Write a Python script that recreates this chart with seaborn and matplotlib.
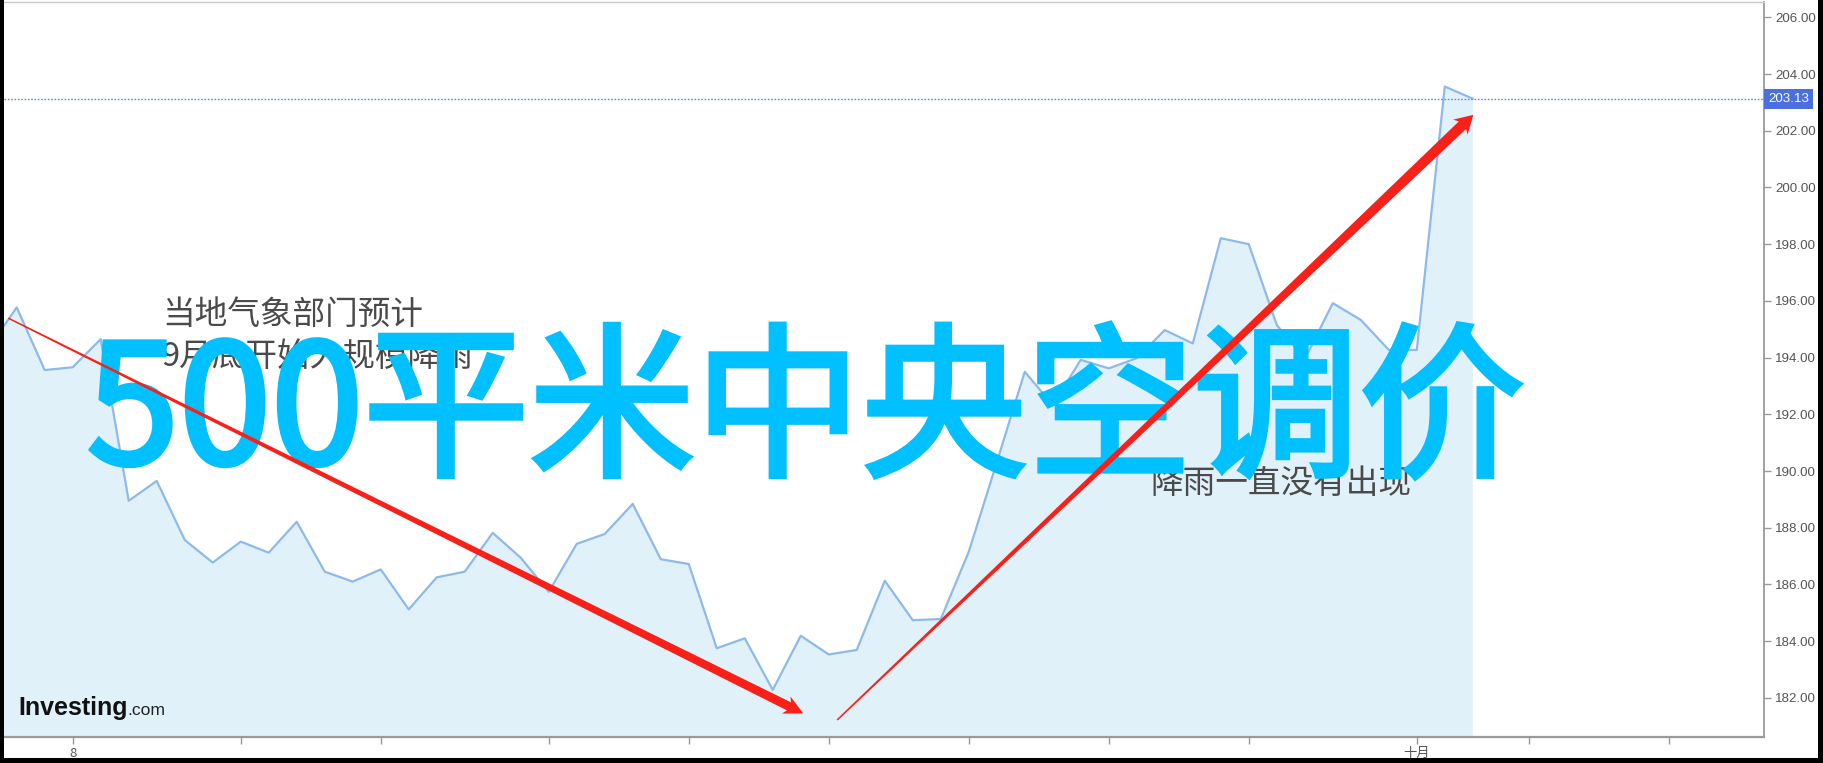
import numpy as np
import pandas as pd
import matplotlib
matplotlib.use("Agg")
import matplotlib.pyplot as plt
import matplotlib.patheffects as pe
import seaborn as sns
from matplotlib.patches import Polygon, Rectangle
from matplotlib.transforms import IdentityTransform

# ---------------- data ----------------
day_index = list(range(-1, 53))
prices = [194.34, 195.77, 193.56, 193.66, 194.65, 188.95, 189.65, 187.57, 186.77, 187.51,
          187.12, 188.21, 186.45, 186.10, 186.53, 185.12, 186.25, 186.45, 187.82, 186.94,
          185.74, 187.43, 187.78, 188.84, 186.89, 186.72, 183.75, 184.10, 182.28, 184.19,
          183.53, 183.69, 186.13, 184.74, 184.78, 187.15, 190.30, 193.50, 192.33, 193.92,
          193.62, 193.98, 194.97, 194.50, 198.21, 198.00, 195.15, 193.94, 195.92, 195.33,
          194.27, 194.27, 203.56, 203.13]
y_ticks = [182, 184, 186, 188, 190, 192, 194, 196, 198, 200, 202, 204, 206]
x_tick_pos = [2, 8, 13, 19, 24, 29, 34, 39, 44, 50, 54, 59]
x_tick_labels = ["8", "", "", "", "", "", "", "", "", "十月", "", ""]
last_price = 203.13
note_top = ["当地气象部门预计", "9月底开始大规模降雨"]
note_bottom = "降雨一直没有出现"
headline = "500平米中央空调价"
arrow_down = ((-0.3, 195.39), (28.09, 181.45))
arrow_up = ((29.3, 181.22), (52.02, 202.56))

# ---------------- figure ----------------
W, H, DPI = 1823, 763, 100
sns.set_theme(style="white")
plt.rcParams['font.family'] = ['Noto Sans CJK SC', 'DejaVu Sans']

fig = plt.figure(figsize=(W / DPI, H / DPI), dpi=DPI)
fig.patch.set_facecolor('white')

ax_l, ax_r, ax_t, ax_b = 4, 1764, 2, 737
ax = fig.add_axes([ax_l / W, 1 - ax_b / H, (ax_r - ax_l) / W, (ax_b - ax_t) / H])
ax.set_facecolor('white')

df = pd.DataFrame({'day': day_index, 'price': prices})
ax.fill_between(df['day'], df['price'], 170, color='#E1F1FA', lw=0, zorder=1)
sns.lineplot(data=df, x='day', y='price', ax=ax, color='#8DBAEA', lw=1.6, zorder=2)

ax.set_xlim(-0.454, 62.40)
ax.set_ylim(180.62, 206.54)
ax.set_xlabel('')
ax.set_ylabel('')
ax.grid(False)

ax.yaxis.tick_right()
ax.set_yticks(y_ticks)
ax.set_yticklabels([f"{v:.2f}" for v in y_ticks])
ax.tick_params(axis='y', direction='out', length=5, width=1, color='#999999',
               labelcolor='#555555', labelsize=9.6, pad=3, right=True, left=False)
for lbl in ax.get_yticklabels():
    lbl.set_fontfamily(['Liberation Sans', 'DejaVu Sans'])

ax.set_xticks(x_tick_pos)
ax.set_xticklabels(x_tick_labels)
ax.tick_params(axis='x', direction='out', length=5, width=1, color='#999999',
               labelcolor='#555555', labelsize=9.5, pad=2, bottom=True)
for lbl in ax.get_xticklabels():
    lbl.set_fontfamily(['Noto Sans CJK SC', 'DejaVu Sans'])

ax.spines['left'].set_visible(False)
ax.spines['bottom'].set_color('#9a9a9a')
ax.spines['bottom'].set_linewidth(1.6)
ax.spines['right'].set_color('#9a9a9a')
ax.spines['right'].set_linewidth(1.3)
ax.spines['top'].set_color('#c8c8c8')
ax.spines['top'].set_linewidth(1.0)

# last price line + label
ax.axhline(last_price, color='#6F86E0', lw=1.0, ls=(0, (1.2, 1.2)), zorder=3)
ax.annotate(f"{last_price:.2f}", xy=(1.0, last_price), xycoords=ax.get_yaxis_transform(),
            xytext=(4, 0), textcoords='offset pixels', ha='left', va='center',
            color='white', fontsize=9.6, family=['Liberation Sans', 'DejaVu Sans'],
            bbox=dict(boxstyle='square,pad=0.3', fc='#4A70E0', ec='none'),
            annotation_clip=False, zorder=6)

# ---------------- texts ----------------
def fx(x):
    return x / W


def fy(y):
    return 1 - y / H


gray = '#4A4A4A'
fig.text(fx(162), fy(315), note_top[0], fontsize=23.5, color=gray, ha='left', va='center', zorder=4)
fig.text(fx(162), fy(357), note_top[1], fontsize=23.5, color=gray, ha='left', va='center', zorder=4)
fig.text(fx(1150), fy(484), note_bottom, fontsize=23.5, color=gray, ha='left', va='center', zorder=4)

cyan = '#00C0FF'
fig.text(fx(806), fy(416), headline, fontsize=119.5, color=cyan, fontweight='normal',
         ha='center', va='center', zorder=5,
         path_effects=[pe.Stroke(linewidth=3.6, foreground=cyan, joinstyle='miter',
                                 capstyle='projecting'), pe.Normal()])

# logo
fig.text(fx(18), fy(715), "Investing", fontsize=18, fontweight='bold', color='#111111',
         family=['Liberation Sans', 'DejaVu Sans'], ha='left', va='baseline', zorder=6)
fig.text(fx(127), fy(715), ".com", fontsize=12.6, color='#222222',
         family=['Liberation Sans', 'DejaVu Sans'], ha='left', va='baseline', zorder=6)


# ---------------- arrows ----------------
def tapered_arrow(p_start, p_end, w0, w1, head_len, head_w, color):
    s = ax.transData.transform(p_start)
    e = ax.transData.transform(p_end)
    d = e - s
    u = d / np.hypot(*d)
    n = np.array([-u[1], u[0]])
    b = e - u * head_len
    bb = b - u * 3
    pts = [s + n * w0 / 2, b + n * w1 / 2, bb + n * head_w / 2, e,
           bb - n * head_w / 2, b - n * w1 / 2, s - n * w0 / 2]
    fig.add_artist(Polygon(pts, closed=True, transform=IdentityTransform(),
                           fc=color, ec='none', zorder=20))


red = '#F8211A'
tapered_arrow(arrow_down[0], arrow_down[1], 1.5, 9.0, 16, 19, red)
tapered_arrow(arrow_up[0], arrow_up[1], 1.5, 10.5, 15, 21, red)

# black frame (left, right, bottom)
fig.add_artist(Rectangle((0, 0), 4 / W, 1, transform=fig.transFigure, fc='black', ec='none', zorder=30))
fig.add_artist(Rectangle((1818 / W, 0), 5 / W, 1, transform=fig.transFigure, fc='black', ec='none', zorder=30))
fig.add_artist(Rectangle((0, 0), 1, 5 / H, transform=fig.transFigure, fc='black', ec='none', zorder=30))

fig.savefig("out.png", dpi=DPI, facecolor='white')
